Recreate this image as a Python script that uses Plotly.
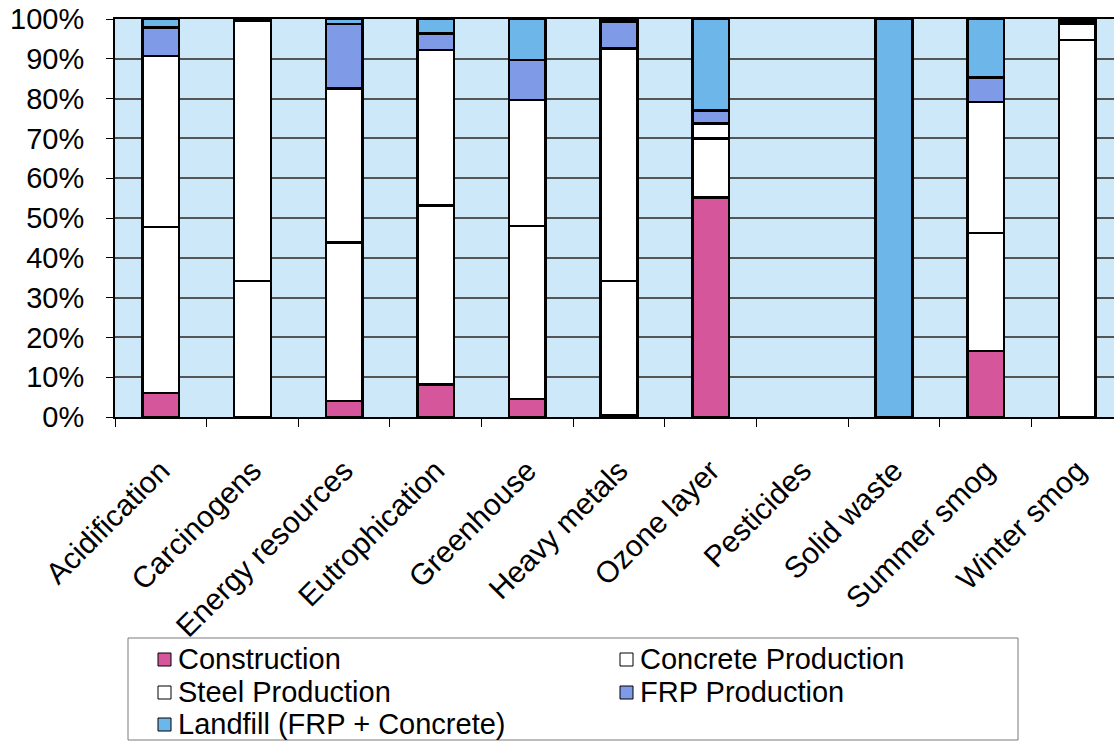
import plotly.graph_objects as go

# Impact categories and the share (%) of each life-cycle stage
categories = ["Acidification", "Carcinogens", "Energy resources", "Eutrophication",
              "Greenhouse", "Heavy metals", "Ozone layer", "Pesticides",
              "Solid waste", "Summer smog", "Winter smog"]
construction = [6.0, 0.0, 4.0, 8.2, 4.5, 0.5, 55.2, None, 0.0, 16.6, 0.0]
concrete_production = [41.7, 34.2, 39.9, 44.9, 43.5, 33.7, 14.8, None, 0.0, 29.6, 94.7]
steel_production = [43.0, 65.3, 38.7, 39.1, 31.6, 58.4, 3.8, None, 0.0, 32.9, 4.0]
frp_production = [7.1, 0.3, 16.1, 4.2, 10.1, 6.7, 3.2, None, 0.0, 6.2, 0.7]
landfill = [2.2, 0.2, 1.3, 3.6, 10.3, 0.7, 23.0, None, 100.0, 14.7, 0.6]

y_ticks = [0, 10, 20, 30, 40, 50, 60, 70, 80, 90, 100]
y_tick_labels = ["0%", "10%", "20%", "30%", "40%", "50%", "60%", "70%", "80%", "90%", "100%"]

series_names = ["Construction", "Concrete Production", "Steel Production",
                "FRP Production", "Landfill (FRP + Concrete)"]
series_values = [construction, concrete_production, steel_production,
                 frp_production, landfill]
series_colors = ["#D6569B", "#FFFFFF", "#FFFFFF", "#7F9AE6", "#6CB6EA"]

FONT = "Arial, 'Liberation Sans', sans-serif"

# Page geometry (pixels) of the plotting area
W, H = 1114, 742
L, R, T, B = 115, 0, 19, 325
PW, PH = W - L - R, H - T - B


def px_x(x):
    return (x - L) / PW


def px_y(y):
    return (H - B - y) / PH


fig = go.Figure()
for name, values, color in zip(series_names, series_values, series_colors):
    fig.add_trace(go.Bar(
        x=categories, y=values, name=name, showlegend=False,
        marker=dict(color=color, line=dict(color="#000000", width=2.6)),
    ))

# Boxed legend below the chart: two columns, three rows
shapes = [dict(type="rect", xref="paper", yref="paper", layer="above",
               x0=px_x(128), x1=px_x(1018), y0=px_y(740), y1=px_y(638),
               line=dict(color="#7A7A7A", width=1), fillcolor="#FFFFFF")]
annotations = []
col_x = [158, 620]
row_y = [659, 692, 724]
for i, (name, color) in enumerate(zip(series_names, series_colors)):
    cx = col_x[i % 2]
    cy = row_y[i // 2]
    shapes.append(dict(type="rect", xref="paper", yref="paper", layer="above",
                       x0=px_x(cx), x1=px_x(cx + 13),
                       y0=px_y(cy + 7), y1=px_y(cy - 6),
                       line=dict(color="#000000", width=1), fillcolor=color))
    annotations.append(dict(text=name, xref="paper", yref="paper",
                            x=px_x(cx + 18), y=px_y(cy), xanchor="left",
                            yanchor="middle", showarrow=False,
                            font=dict(family=FONT, size=29, color="#000000")))

fig.update_layout(
    width=W, height=H,
    barmode="stack", bargap=0.6,
    plot_bgcolor="#CDE9F9", paper_bgcolor="#FFFFFF",
    margin=dict(l=L, r=R, t=T, b=B),
    font=dict(family=FONT, size=28, color="#000000"),
    showlegend=False,
    shapes=shapes,
    annotations=annotations,
)

fig.update_xaxes(
    type="category", range=[-0.5, 10.4],
    showgrid=False, showline=True, linecolor="#000000", linewidth=2,
    mirror=True, ticks="outside", tickson="boundaries", ticklen=8,
    tickcolor="#000000", tickwidth=1, tickangle=-45,
    ticklabelstandoff=22,
    tickfont=dict(family=FONT, size=30, color="#000000"),
)
fig.update_yaxes(
    range=[0, 100], tickvals=y_ticks, ticktext=y_tick_labels,
    showgrid=True, gridcolor="#555555", gridwidth=1.6,
    showline=True, linecolor="#000000", linewidth=2,
    ticks="outside", ticklen=7, tickcolor="#000000",
    ticklabelstandoff=16,
    tickfont=dict(family=FONT, size=29, color="#000000"),
    zeroline=False,
)

fig.write_html("out.html")
